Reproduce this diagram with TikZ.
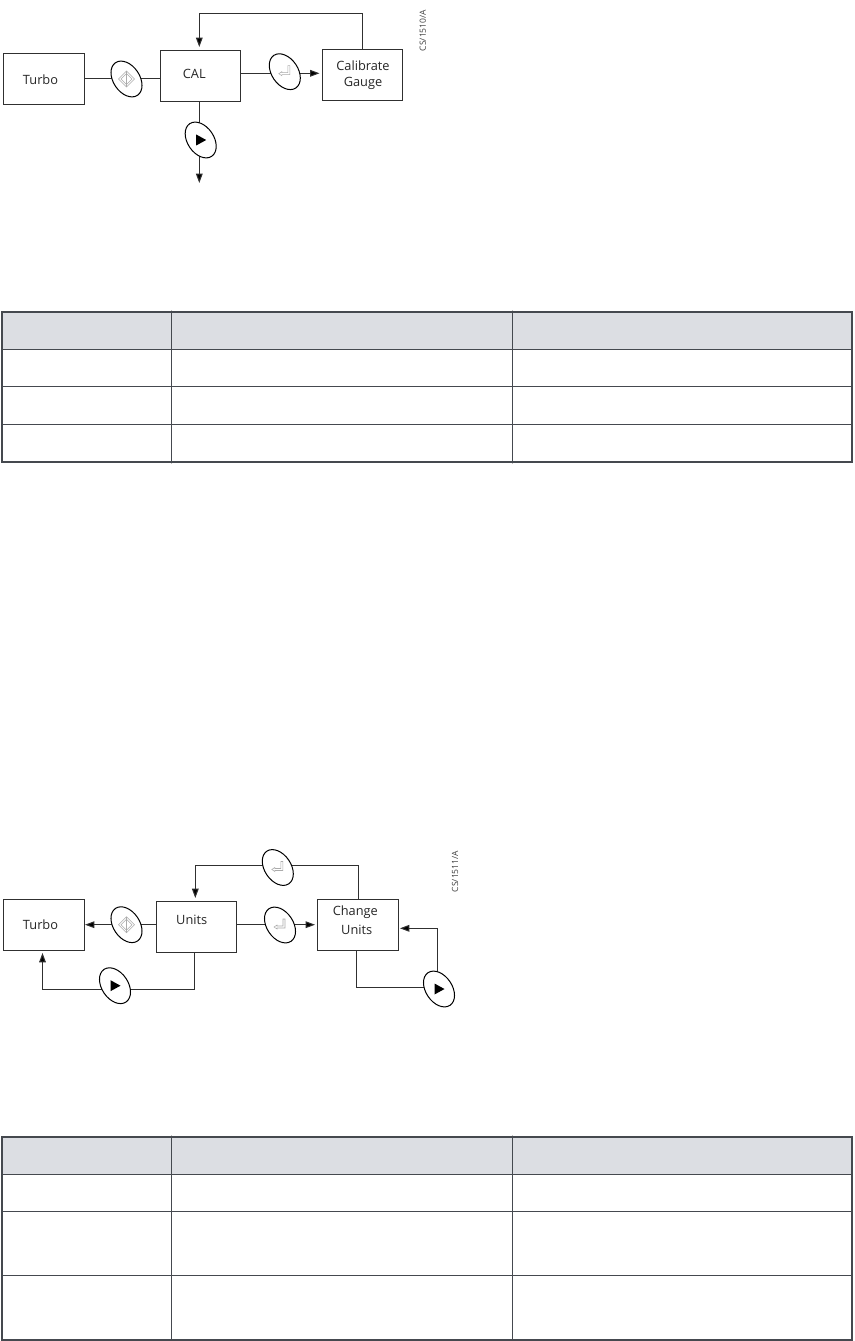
\documentclass[tikz,border=0pt]{standalone}
\usepackage{fontspec}
\setmainfont{Open Sans}
\usetikzlibrary{shapes.geometric,arrows.meta,backgrounds}
\definecolor{tbl}{HTML}{45494F}
\definecolor{hdr}{HTML}{DCDEE3}
\definecolor{lne}{HTML}{303030}
\definecolor{icn}{HTML}{ABABAB}
\tikzset{
  box/.style={draw=lne,line width=0.75pt,fill=white,minimum width=60.4pt,inner sep=0pt,anchor=north west},
  sel/.style={draw=black,line width=0.75pt,fill=white,ellipse,minimum width=29.5pt,minimum height=19.8pt,inner sep=0pt,rotate=-56},
  conn/.style={draw=lne,line width=0.75pt},
  arr/.style={conn,-{Triangle[length=7pt,width=5pt,fill=black]}},
  lbl/.style={font=\fontsize{9.6}{11}\selectfont,text=black!85,inner sep=0pt},
  code/.style={font=\fontsize{6.4}{7}\selectfont,text=black!75,rotate=90,inner sep=0pt},
  icon/.style={draw=icn,line width=0.4pt,fill=none},
  outer/.style={draw=tbl,line width=1.6pt},
  inner/.style={draw=tbl,line width=0.7pt},
  stub/.style={draw=black!25,line width=0.4pt},
  diamondicon/.pic={
    \draw[icon] (-8,0)--(0,-8)--(8,0)--(0,8)--cycle;
    \draw[icon] (-5.5,0)--(0,-5.5)--(5.5,0)--(0,5.5)--cycle;
    \draw[icon] (0,-8)--(0,8);
  },
  returnicon/.pic={
    \draw[icon] (-6,2)--(-3,0)--(-3,1)--(3,1)--(3,-6)--(5,-6)--(5,3)--(-3,3)--(-3,4)--cycle;
  },
  playicon/.pic={
    \fill[black] (-4.5,-5.5)--(5.5,0)--(-4.5,5.5)--cycle;
  }
}
\begin{document}
\begin{tikzpicture}[x=0.75pt,y=-0.75pt]
\useasboundingbox (0,0) rectangle (854,1341);

% ---- first diagram
\node[box,minimum height=38.5pt] (turboA) at (3,53) {};
\node[box,minimum height=38.25pt] (cal) at (159.5,50.5) {};
\node[box,minimum height=38pt] (gauge) at (321.5,49.5) {};
\node[lbl] (turboAt) at (40.5,79.5) {Turbo};
\node[lbl] (calt) at (194.3,74) {CAL};
\node[lbl] (gauget1) at (363,66) {Calibrate};
\node[lbl] (gauget2) at (363,83.5) {Gauge};
\node[code] (codeA) at (422.7,30.5) {CS/1510/A};
\node[sel] (eA1) at (126.5,79) {};
\node[sel] (eA2) at (284.8,71.7) {};
\node[sel] (eA3) at (200.7,140) {};
\coordinate (tipA) at (199.3,183);
\pic at (eA1) {diamondicon};
\pic at (eA2) {returnicon};
\pic at (eA3) {playicon};
\begin{scope}[on background layer]
  \fill[white] (0,0) rectangle (854,1341);
  \draw[conn] (turboA.east |- eA1) -- (cal.west |- eA1);
  \draw[conn] (cal.east |- 0,73.3) -- (eA2.center |- 0,73.3);
  \draw[arr] (eA2.center |- 0,73.3) -- (319.5,73.3);
  \draw[arr] (362.3,0 |- gauge.north) -- (362.3,13.7) -- (199.3,13.7) -- (199.3,47);
  \draw[arr] (199.3,0 |- cal.south) -- (tipA);
\end{scope}

% ---- second diagram
\node[box,minimum height=38.25pt] (turboB) at (3,898.5) {};
\node[box,minimum height=38.25pt] (units) at (155.5,901.3) {};
\node[box,minimum height=38.25pt] (change) at (317,899.3) {};
\node[lbl] (turboBt) at (40.5,925) {Turbo};
\node[lbl] (unitst) at (191.7,919.7) {Units};
\node[lbl] (changet1) at (355.3,911.7) {Change};
\node[lbl] (changet2) at (356.7,929.7) {Units};
\node[code] (codeB) at (455,871.5) {CS/1511/A};
\node[sel] (eB1) at (126.5,924.7) {};
\node[sel] (eB2) at (280,925) {};
\node[sel] (eB3) at (277.8,867.5) {};
\node[sel] (eB4) at (115,985.7) {};
\node[sel] (eB5) at (439,989) {};
\pic at (eB1) {diamondicon};
\pic at (eB2) {returnicon};
\pic at (eB3) {returnicon};
\pic at (eB4) {playicon};
\pic at (eB5) {playicon};
\begin{scope}[on background layer]
  \draw[arr] (units.west |- eB1) -- (85,924.7);
  \draw[arr] (units.east |- eB1) -- (315,924.7);
  \draw[arr] (358.3,0 |- change.north) -- (358.3,865.3) -- (195.3,865.3) -- (195.3,898);
  \draw[arr] (194.7,0 |- units.south) -- (194.7,989.7) -- (42.5,989.7) -- (42.5,953);
  \draw[conn] (356.7,0 |- change.south) -- (356.7,987.7) -- (eB5.center |- 0,987.7);
  \draw[arr] (437.3,0 |- eB5.center) -- (437.3,928.3) -- (400,928.3);
\end{scope}

% ---- first table
\fill[hdr] (1.6,312) rectangle (852.3,349.7);
\draw[stub] (171.3,310) -- (171.3,464);
\draw[stub] (512.5,310) -- (512.5,464);
\draw[inner] (171.3,312) -- (171.3,462);
\draw[inner] (512.5,312) -- (512.5,462);
\draw[inner] (1.6,349.7) -- (852.3,349.7);
\draw[inner] (1.6,386.3) -- (852.3,386.3);
\draw[inner] (1.6,424.3) -- (852.3,424.3);
\draw[outer] (1.6,312) rectangle (852.3,462);

% ---- second table
\fill[hdr] (1.6,1137) rectangle (852.3,1174.7);
\draw[stub] (171.3,1135) -- (171.3,1340);
\draw[stub] (512.5,1135) -- (512.5,1340);
\draw[inner] (171.3,1137) -- (171.3,1339.7);
\draw[inner] (512.5,1137) -- (512.5,1339.7);
\draw[inner] (1.6,1174.7) -- (852.3,1174.7);
\draw[inner] (1.6,1211.3) -- (852.3,1211.3);
\draw[inner] (1.6,1275.3) -- (852.3,1275.3);
\draw[outer] (1.6,1137) rectangle (852.3,1339.7);
\end{tikzpicture}
\end{document}
